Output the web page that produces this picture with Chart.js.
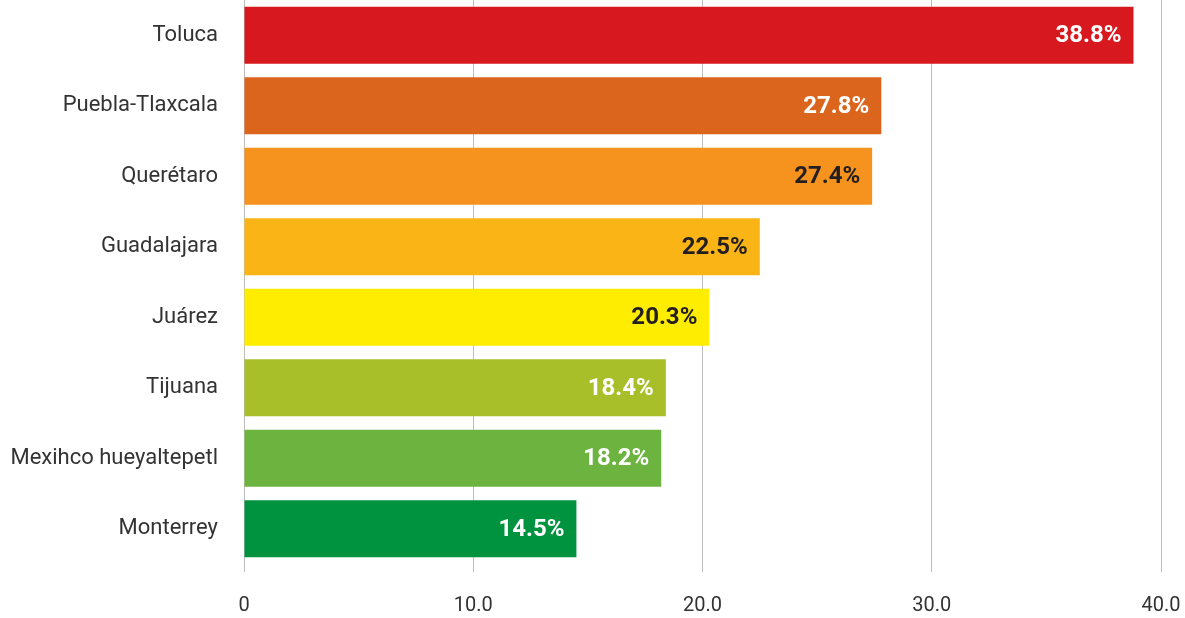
<!DOCTYPE html>
<html>
<head>
<meta charset="utf-8">
<script src="https://cdn.jsdelivr.net/npm/chart.js@4"></script>
<style>
  html, body { margin: 0; padding: 0; background: #fff; overflow: hidden; }
  canvas { display: block; }
</style>
</head>
<body>
<canvas id="chart" width="1185" height="618"></canvas>
<script>
// cities and share (%)
const cities = ["Toluca", "Puebla-Tlaxcala", "Querétaro", "Guadalajara", "Juárez", "Tijuana", "Mexihco hueyaltepetl", "Monterrey"];
const shares = [38.8, 27.8, 27.4, 22.5, 20.3, 18.4, 18.2, 14.5];
const barColors = ["#d7191f", "#dc651e", "#f6921e", "#fbb416", "#ffed00", "#a8bf2a", "#6cb33f", "#00933f"];
const labelColors = ["#fff", "#fff", "#231f20", "#231f20", "#231f20", "#fff", "#fff", "#fff"];
const xTicks = [0, 10, 20, 30, 40];

// draws the value at the end of every bar
const valueLabels = {
    id: "valueLabels",
    afterDatasetsDraw(chart) {
        const ctx = chart.ctx;
        const meta = chart.getDatasetMeta(0);
        ctx.save();
        ctx.font = "bold 24px Roboto, sans-serif";
        ctx.textAlign = "right";
        ctx.textBaseline = "middle";
        meta.data.forEach((bar, i) => {
            ctx.fillStyle = labelColors[i];
            ctx.fillText(shares[i].toFixed(1) + "%", bar.x - 12, bar.y + 1);
        });
        ctx.restore();
    }
};

new Chart("chart", {
    type: "bar",
    data: {
        labels: cities,
        datasets: [{
            data: shares,
            backgroundColor: barColors,
            borderWidth: 0,
            categoryPercentage: 1,
            barPercentage: 0.81
        }]
    },
    options: {
        indexAxis: "y",
        responsive: false,
        animation: false,
        layout: { padding: { top: 0, right: 24, left: 0, bottom: 0 } },
        plugins: {
            legend: { display: false },
            tooltip: { enabled: false }
        },
        scales: {
            x: {
                min: 0,
                max: 40,
                afterBuildTicks: (axis) => { axis.ticks = xTicks.map(v => ({ value: v })); },
                afterFit: (axis) => {
                    axis.height = 54;
                    axis.paddingLeft = 0;
                    axis.paddingRight = 0;
                },
                border: { display: false },
                grid: { color: "#bdbdbd", lineWidth: 1, drawTicks: true, tickLength: 8 },
                ticks: {
                    padding: 22,
                    color: "#333",
                    font: { family: "Roboto, sans-serif", size: 20 },
                    callback: (v) => v === 0 ? "0" : v.toFixed(1)
                }
            },
            y: {
                afterFit: (axis) => {
                    axis.width = 244;
                    axis.paddingTop = 0;
                    axis.paddingBottom = 0;
                },
                border: { display: false },
                grid: { display: false },
                ticks: {
                    padding: 18,
                    color: "#333",
                    font: { family: "Roboto, sans-serif", size: 22 }
                }
            }
        }
    },
    plugins: [valueLabels]
});
</script>
</body>
</html>
